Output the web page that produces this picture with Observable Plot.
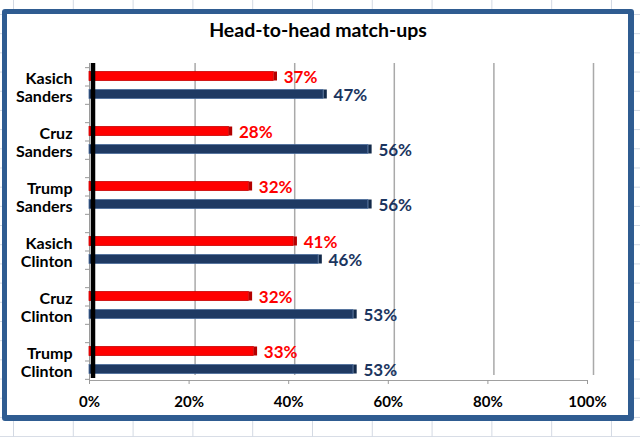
<!DOCTYPE html>
<html>
<head>
<meta charset="utf-8">
<script src="https://cdn.jsdelivr.net/npm/d3@7"></script>
<script src="https://cdn.jsdelivr.net/npm/@observablehq/plot@0.6"></script>
<style>
  html, body { margin: 0; padding: 0; background: #fff; }
  #wrap {
    position: relative; width: 640px; height: 437px; overflow: hidden;
    background-color: #fff;
    background-image:
      linear-gradient(to right, #d3d9e3 1px, transparent 1px),
      linear-gradient(to bottom, #d3d9e3 1px, transparent 1px);
    background-size: 59.8px 100%, 100% 19.2px;
    background-position: 13px 0, 0 14px;
  }
  #frame {
    position: absolute; left: 2px; top: 9px; width: 632px; height: 412px;
    box-sizing: border-box; background: #fff;
    border: 5px solid #2F5C91; border-right-width: 6px; border-bottom-width: 6px;
    border-radius: 3px;
  }
  #title {
    position: absolute; left: 2px; width: 632px; top: 19px; text-align: center;
    font-family: Lato, "DejaVu Sans", sans-serif; font-weight: bold; font-size: 19.5px;
    line-height: 22px; color: #000;
  }
  #chart { position: absolute; left: 0; top: 0; }
</style>
</head>
<body>
<div id="wrap">
  <div id="frame"></div>
  <div id="title">Head-to-head match-ups</div>
  <div id="chart"></div>
</div>
<script>
// Data
const republicans = ["Kasich", "Cruz", "Trump", "Kasich", "Cruz", "Trump"];
const democrats = ["Sanders", "Sanders", "Sanders", "Clinton", "Clinton", "Clinton"];
const republicanShare = [37, 28, 32, 41, 32, 33];
const democratShare = [47, 56, 56, 46, 53, 53];
const xTicks = [0, 20, 40, 60, 80, 100];

const matchups = republicans.map((r, i) => r + "\n" + democrats[i]);
const data = matchups.map((m, i) => ({matchup: m, rep: republicanShare[i], dem: democratShare[i]}));

const RED = "#FF0000", NAVY = "#1F3A63";

const chart = Plot.plot({
  width: 640,
  height: 437,
  marginLeft: 89,
  marginRight: 53,
  marginTop: 63,
  marginBottom: 57,
  style: {fontFamily: "Lato, 'DejaVu Sans', sans-serif", background: "transparent", overflow: "visible"},
  x: {domain: [0, 100]},
  y: {type: "band", domain: matchups, range: [57.5, 387.5], padding: 0},
  marks: [
    // back-wall gridlines
    Plot.ruleX(xTicks.filter(v => v > 0), {stroke: "#a9a9a9", strokeWidth: 1.5, dx: 6, insetBottom: 5}),
    // thin front edge of the axis wall
    Plot.ruleX([0], {stroke: "#9a9a9a", strokeWidth: 1, insetBottom: -3}),
    // floor baseline
    Plot.ruleY([matchups[matchups.length - 1]], {x1: 0, x2: 100, dy: 19.5, stroke: "#a0a0a0", strokeWidth: 1}),
    // x axis
    Plot.axisX({ticks: xTicks, tickFormat: d => d + "%", tickSize: 4, tickPadding: 12,
      stroke: "#999", fill: "#000", fontSize: 15, fontWeight: "bold", label: null}),
    // left minor ticks (three per band)
    Plot.axisY({tickSize: 4, fill: "none", stroke: "#999", dy: -18.33, label: null}),
    Plot.axisY({tickSize: 4, fill: "none", stroke: "#999", dy: 0, label: null}),
    Plot.axisY({tickSize: 4, fill: "none", stroke: "#999", dy: 18.33, label: null}),
    // category labels
    Plot.axisY({tickSize: 0, tickPadding: 17, fill: "#000", fontSize: 16, fontWeight: "bold",
      lineHeight: 1.1, dy: 1.5, label: null}),
    // republican bars (3D-style end cap)
    Plot.tickX(data, {x: "rep", y: "matchup", stroke: "#B40000", strokeWidth: 3.5, dx: 1.5,
      insetTop: 13.5, insetBottom: 32.5}),
    Plot.barX(data, {x: "rep", y: "matchup", fill: RED, stroke: "#C80000", strokeWidth: 0.8,
      insetTop: 13.5, insetBottom: 32.5}),
    // democrat bars (3D-style end cap)
    Plot.tickX(data, {x: "dem", y: "matchup", stroke: "#132a4a", strokeWidth: 3.5, dx: 1.5,
      insetTop: 31.5, insetBottom: 14.5}),
    Plot.barX(data, {x: "dem", y: "matchup", fill: NAVY, stroke: "#4A6C9B", strokeWidth: 0.8,
      insetTop: 31.5, insetBottom: 14.5}),
    // black axis wall
    Plot.ruleX([0], {stroke: "#000", strokeWidth: 4.5, dx: 3.5, insetBottom: 2}),
    // value labels
    Plot.text(data, {x: "rep", y: "matchup", text: d => d.rep + "%", dx: 10, dy: -8.5,
      textAnchor: "start", fill: RED, fontSize: 17, fontWeight: "bold"}),
    Plot.text(data, {x: "dem", y: "matchup", text: d => d.dem + "%", dx: 10, dy: 10,
      textAnchor: "start", fill: "#1B3560", fontSize: 17, fontWeight: "bold"})
  ]
});
document.getElementById("chart").appendChild(chart);
</script>
</body>
</html>
